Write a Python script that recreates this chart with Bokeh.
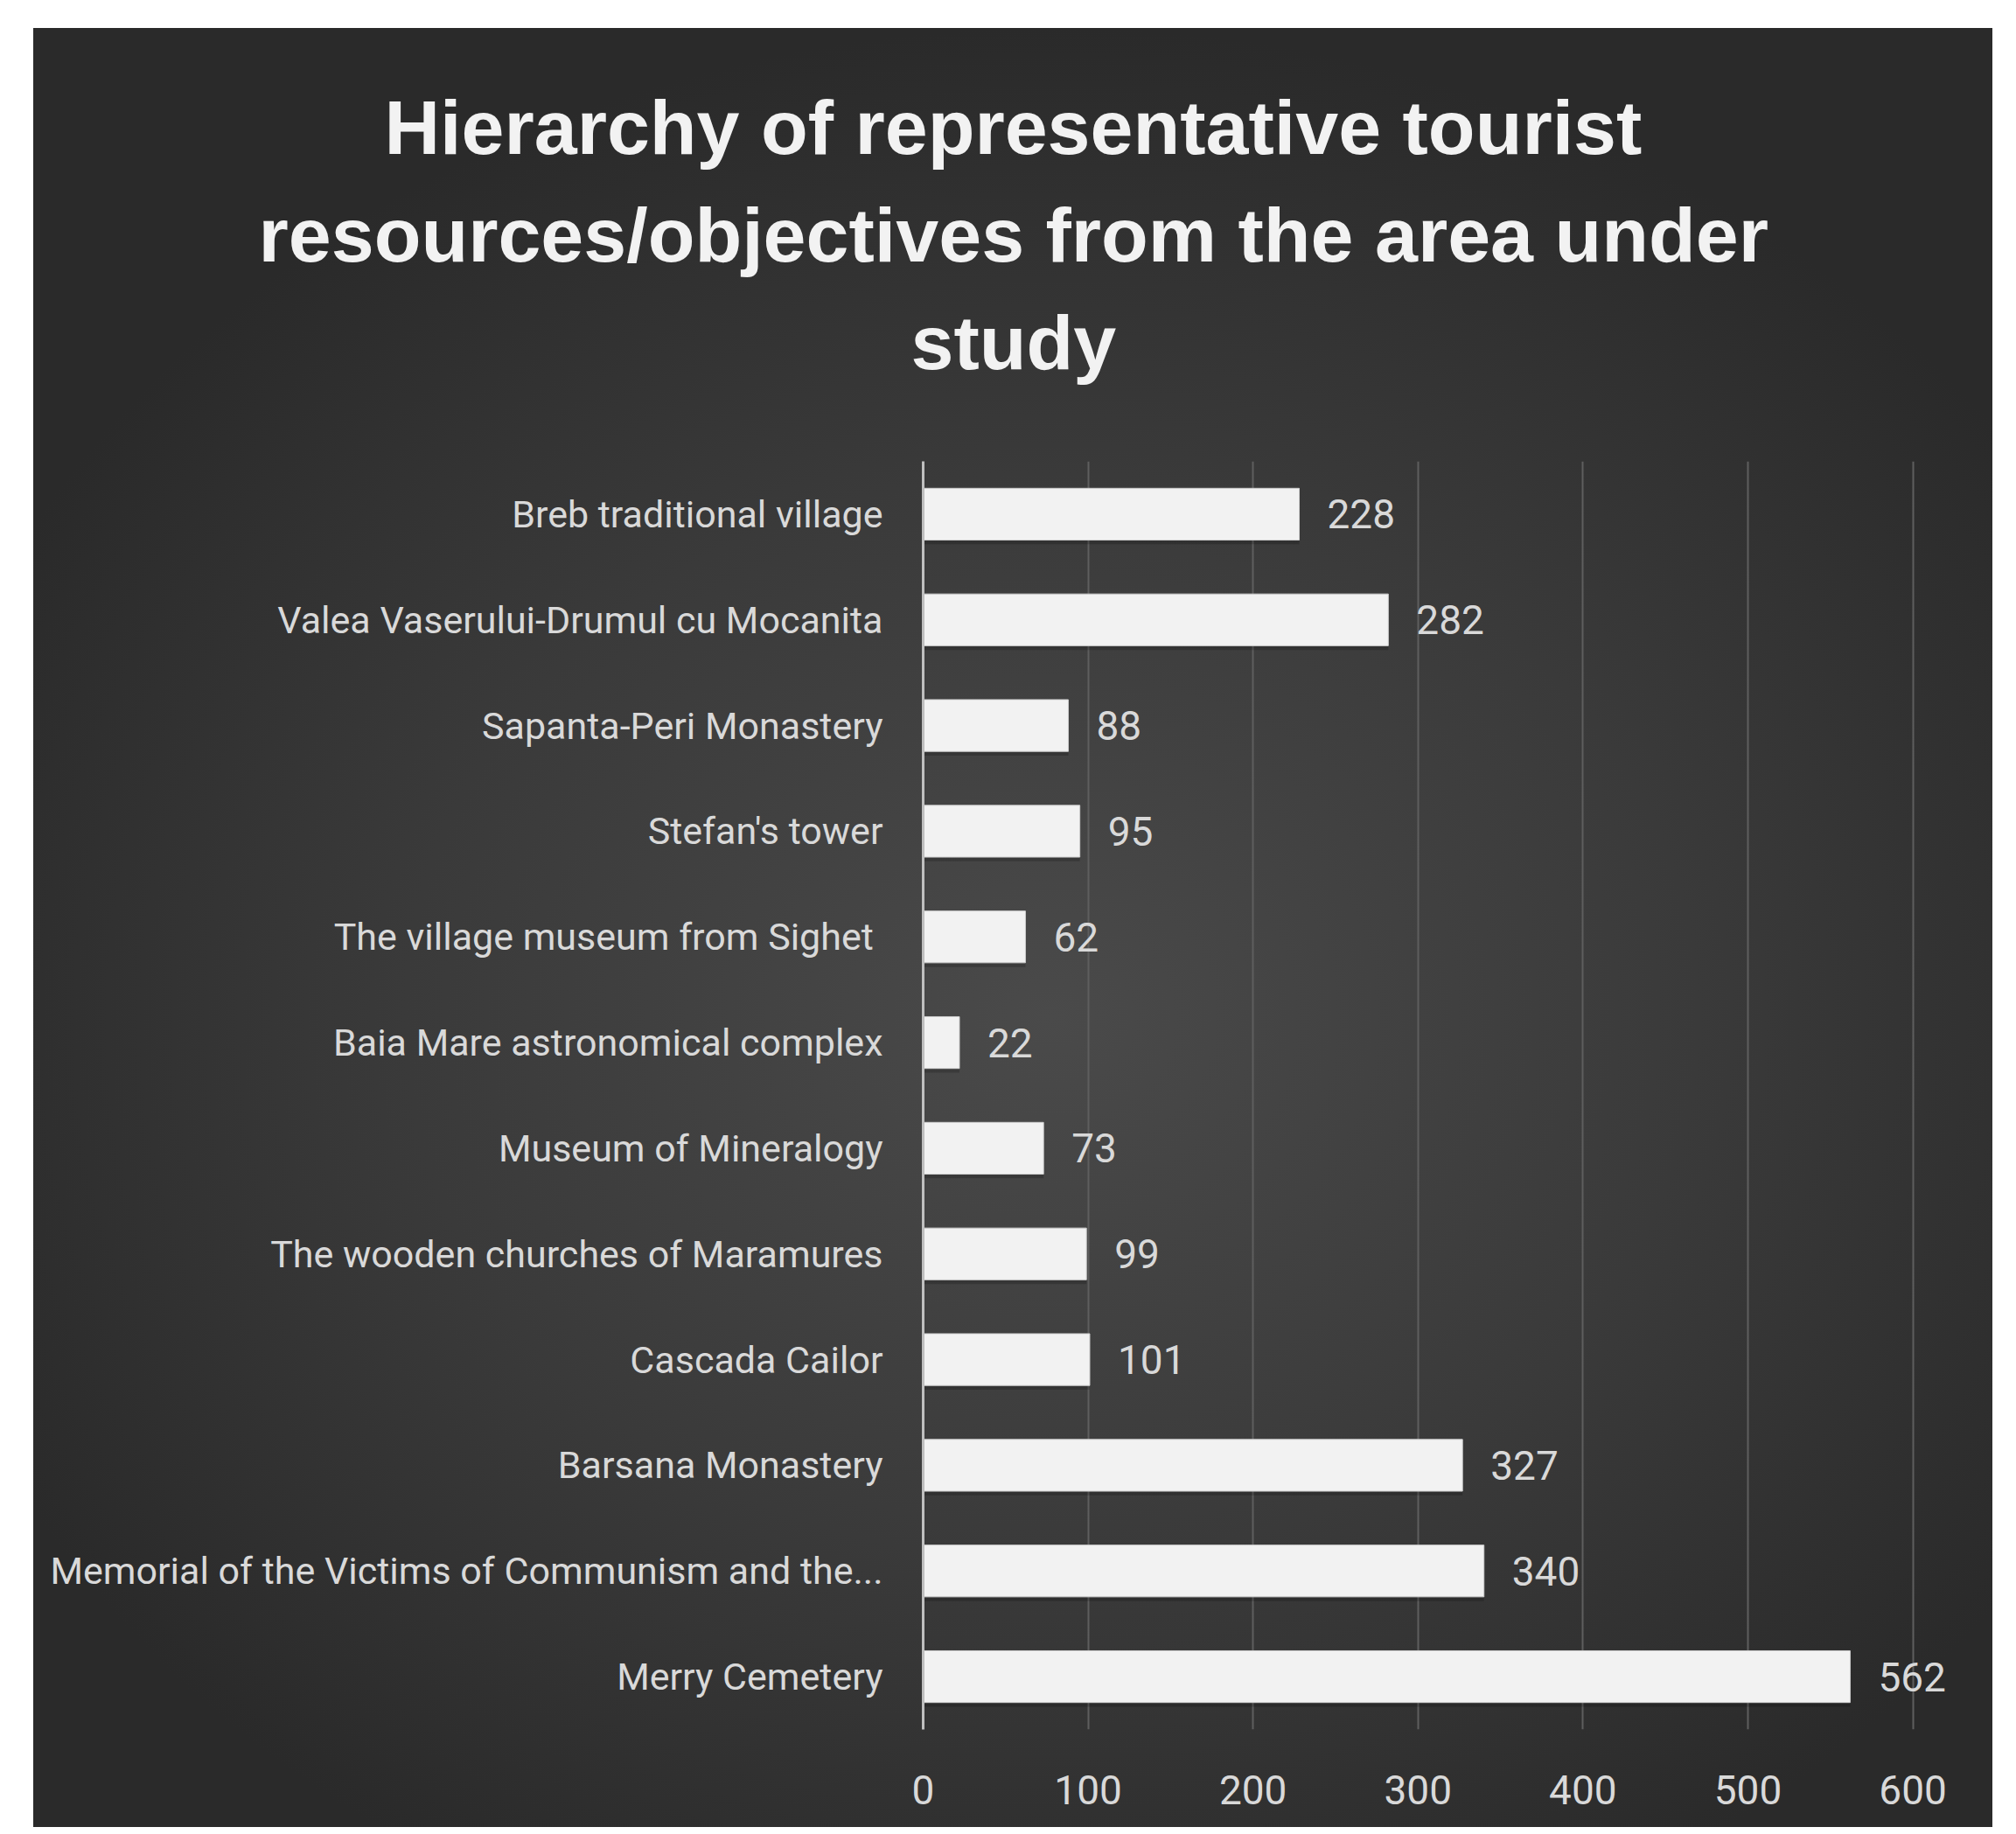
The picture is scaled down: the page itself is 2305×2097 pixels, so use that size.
from bokeh.plotting import figure
from bokeh.models import Range1d, FactorRange, FixedTicker, ColumnDataSource, Title
from bokeh.transform import dodge
from bokeh.core.properties import value
from bokeh.embed import file_html
from bokeh.resources import INLINE

# ---- data (top to bottom as in the reference) ----
categories = [
    "Breb traditional village",
    "Valea Vaserului-Drumul cu Mocanita",
    "Sapanta-Peri Monastery",
    "Stefan's tower",
    "The village museum  from Sighet",
    "Baia Mare astronomical complex",
    "Museum of Mineralogy",
    "The wooden churches of Maramures",
    "Cascada Cailor",
    "Barsana Monastery",
    "Memorial of the Victims of Communism and the...",
    "Merry Cemetery",
]
values = [228, 282, 88, 95, 62, 22, 73, 99, 101, 327, 340, 562]
x_ticks = [0, 100, 200, 300, 400, 500, 600]
title_lines = [
    "Hierarchy of representative tourist",
    "resources/objectives  from the area under",
    "study",
]

LABEL_FONT = "Roboto"
TEXT_COLOR = "#d9d9d9"
W, H = 2240, 2057
BORDER_LEFT = 1017

source = ColumnDataSource(dict(cat=categories, val=values,
                               lab=[str(v) for v in values]))

p = figure(
    width=W, height=H,
    y_range=FactorRange(factors=list(reversed(categories))),
    x_range=Range1d(0, 640),
    output_backend="svg", toolbar_location=None,
    min_border_left=BORDER_LEFT, min_border_right=16,
    min_border_top=495, min_border_bottom=112,
)
p.margin = (32, 0, 0, 38)
p.styles = {"background": "radial-gradient(ellipse 60% 55% at 52% 55%, #4a4a4a 0%, #3a3a3a 55%, #2a2a2a 100%)"}
p.border_fill_color = None
p.background_fill_color = None
p.outline_line_color = None
p.title = None

# spacer between plot area and the title block
p.add_layout(Title(text=" ", text_font_size="10px", standoff=63), "above")

# title lines, nearest to the plot first; left offsets centre each line on the panel
# (approximate rendered widths of the 88px bold lines)
title_widths = [1438, 1726, 235]
for line, w in reversed(list(zip(title_lines, title_widths))):
    off = int(W / 2 - w / 2 - BORDER_LEFT)
    p.add_layout(Title(text=line, align="left", offset=off,
                       text_font="Liberation Sans", text_font_style="bold",
                       text_font_size="88px", text_color="#f2f2f2",
                       standoff=22), "above")

# bar shadows
p.hbar(y=dodge("cat", -0.04, range=p.y_range), right="val", left=0, height=0.49,
       source=source, fill_color="black", fill_alpha=0.18, line_color=None)
# bars
p.hbar(y="cat", right="val", left=0, height=0.49, source=source,
       fill_color="#f2f2f2", line_color="#d0d0d0", line_width=1)

# value labels
p.text(x="val", y="cat", text="lab", source=source, x_offset=32,
       text_align="left", text_baseline="middle",
       text_font=value(LABEL_FONT), text_font_size="46px", text_color=TEXT_COLOR)

# axes
p.xaxis.ticker = FixedTicker(ticks=x_ticks)
p.xaxis.axis_line_color = None
p.xaxis.major_tick_line_color = None
p.xaxis.minor_tick_line_color = None
p.xaxis.major_label_text_font = LABEL_FONT
p.xaxis.major_label_text_font_size = "46px"
p.xaxis.major_label_text_color = TEXT_COLOR
p.xaxis.major_label_standoff = 46

p.yaxis.axis_line_color = "#bfbfbf"
p.yaxis.axis_line_width = 3
p.yaxis.major_tick_line_color = None
p.yaxis.minor_tick_line_color = None
p.yaxis.major_label_text_font = LABEL_FONT
p.yaxis.major_label_text_font_size = "43px"
p.yaxis.major_label_text_color = TEXT_COLOR
p.yaxis.major_label_standoff = 40

p.xgrid.grid_line_color = "#5e5e5e"
p.xgrid.grid_line_width = 2
p.ygrid.grid_line_color = None

open("out.html", "w").write(file_html(p, INLINE))
